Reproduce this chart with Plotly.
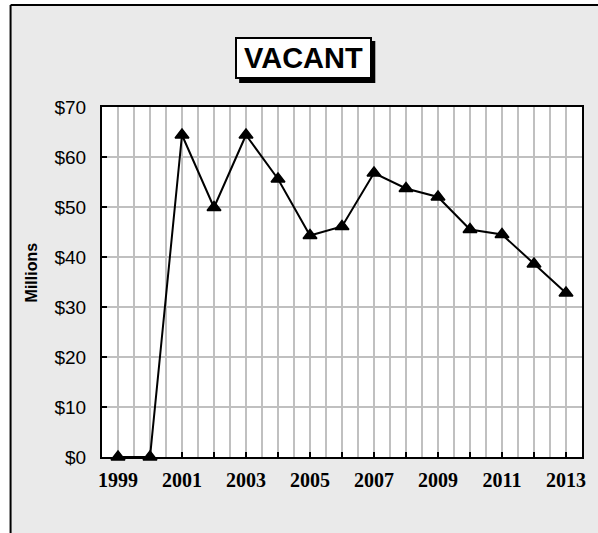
import plotly.graph_objects as go

# Vacant property values by year (millions of dollars)
years = [1999, 2000, 2001, 2002, 2003, 2004, 2005, 2006, 2007,
         2008, 2009, 2010, 2011, 2012, 2013]
vacant = [0, 0, 64.4, 49.9, 64.4, 55.6, 44.3, 46.1, 56.8,
          53.7, 52.0, 45.5, 44.5, 38.6, 32.8]
year_labels = [str(y) if y % 2 == 1 else "" for y in years]
y_ticks = [0, 10, 20, 30, 40, 50, 60, 70]
y_labels = [f"${v}" for v in y_ticks]

W, H = 598, 533
ML, MR, MT, MB = 102, 13, 107, 76
PW, PH = W - ML - MR, H - MT - MB


def px_x(x):
    return (x - ML) / PW


def px_y(y):
    return (H - MB - y) / PH


BG = "#EAEAEA"
GRID = "#C0C0C0"

fig = go.Figure()
fig.add_trace(go.Scatter(
    x=years, y=vacant, mode="lines+markers",
    line=dict(color="black", width=2),
    marker=dict(symbol="triangle-up", size=12, color="black",
                line=dict(color="black", width=1.5)),
    cliponaxis=False, showlegend=False,
))

fig.update_layout(
    width=W, height=H,
    margin=dict(l=ML, r=MR, t=MT, b=MB),
    paper_bgcolor=BG, plot_bgcolor="white",
    font=dict(family="Liberation Sans, Arial, sans-serif", color="black"),
    xaxis=dict(
        range=[1998.5, 2013.5], tickvals=years,
        ticktext=[f"<b>{t}</b>" if t else "" for t in year_labels],
        ticks="inside", ticklen=5, tickwidth=2, tickcolor="black",
        showgrid=True, gridcolor=GRID, gridwidth=2,
        minor=dict(tick0=1998.5, dtick=1, showgrid=True,
                   gridcolor=GRID, gridwidth=2, ticks=""),
        showline=True, linecolor="black", linewidth=2, mirror=True,
        tickfont=dict(family="Liberation Serif, Times New Roman, serif",
                      size=20, color="black"),
        ticklabelstandoff=4, zeroline=False,
    ),
    yaxis=dict(
        range=[0, 70], tickvals=y_ticks, ticktext=y_labels,
        ticks="inside", ticklen=5, tickwidth=1.5, tickcolor="black",
        showgrid=True, gridcolor=GRID, gridwidth=2,
        showline=True, linecolor="black", linewidth=2, mirror=True,
        tickfont=dict(size=19, color="black"),
        ticklabelstandoff=10, zeroline=False,
    ),
)

shapes = [
    # white margin outside the chart frame
    dict(type="rect", xref="paper", yref="paper", layer="below",
         x0=px_x(-5), x1=px_x(10), y0=px_y(H + 10), y1=px_y(-5),
         fillcolor="white", line=dict(width=0)),
    dict(type="rect", xref="paper", yref="paper", layer="below",
         x0=px_x(-5), x1=px_x(W + 10), y0=px_y(5), y1=px_y(-5),
         fillcolor="white", line=dict(width=0)),
    # chart frame edges
    dict(type="line", xref="paper", yref="paper", layer="below",
         x0=px_x(10), x1=px_x(10), y0=px_y(5), y1=px_y(H + 10),
         line=dict(color="black", width=2)),
    dict(type="line", xref="paper", yref="paper", layer="below",
         x0=px_x(10), x1=px_x(W + 10), y0=px_y(5), y1=px_y(5),
         line=dict(color="black", width=2)),
    # drop shadow behind the title box
    dict(type="rect", xref="paper", yref="paper", layer="below",
         x0=px_x(240), x1=px_x(377), y0=px_y(83), y1=px_y(41),
         fillcolor="black", line=dict(width=0)),
]
fig.update_layout(shapes=shapes)

fig.add_annotation(
    xref="paper", yref="paper", x=px_x(304.5), y=px_y(58),
    xanchor="center", yanchor="middle", showarrow=False,
    text="<b>VACANT</b>", font=dict(size=29, color="black"),
    bgcolor="white", bordercolor="black", borderwidth=2, borderpad=0,
    width=133, height=38,
)
fig.add_annotation(
    xref="paper", yref="paper", x=px_x(31.5), y=px_y(272.5),
    xanchor="center", yanchor="middle", showarrow=False,
    text="<b>Millions</b>", textangle=-90, font=dict(size=16, color="black"),
)

fig.write_html("out.html")
